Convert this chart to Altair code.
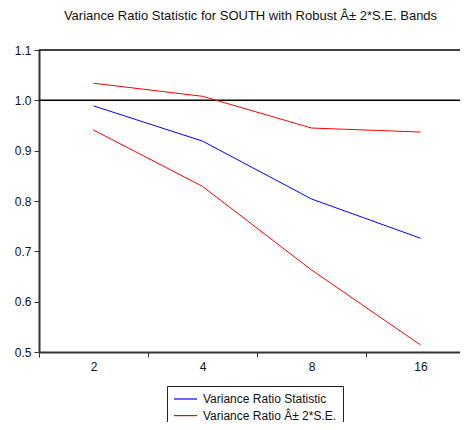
import altair as alt
import pandas as pd

periods = ["2", "4", "8", "16"]
vr_stat = [0.989, 0.919, 0.804, 0.726]
vr_upper = [1.034, 1.008, 0.945, 0.937]
vr_lower = [0.941, 0.829, 0.663, 0.514]
ref_level = [1.0]
frame_top = [1.1]
series_labels = ["Variance Ratio Statistic", "Variance Ratio Â± 2*S.E."]
series_colors = ["#0000ff", "#ff0000"]
y_ticks = [0.5, 0.6, 0.7, 0.8, 0.9, 1.0, 1.1]
title_text = "Variance Ratio Statistic for SOUTH with Robust Â± 2*S.E. Bands"

rows = []
for i, (p, s, u, l) in enumerate(zip(periods, vr_stat, vr_upper, vr_lower)):
    rows.append({"pos": i, "period": p, "value": s, "label": series_labels[0], "line": "stat"})
    rows.append({"pos": i, "period": p, "value": u, "label": series_labels[1], "line": "upper"})
    rows.append({"pos": i, "period": p, "value": l, "label": series_labels[1], "line": "lower"})
df = pd.DataFrame(rows)
ref_df = pd.DataFrame({"level": ref_level})
top_df = pd.DataFrame({"level": frame_top})

FONT = "Liberation Sans"
PLOT_W = 421
BAND_PX = 109  # width of one category band in pixels (right part cropped like the reference)
n = len(periods)
x_domain = [-0.5, -0.5 + PLOT_W / BAND_PX]
x_values = []
for i in range(n):
    x_values += [i - 0.5, i]
label_array = "[" + ",".join("'" + p + "'" for p in periods) + "]"

y_scale = alt.Scale(domain=[0.5, 1.1], nice=False, zero=False)

x_enc = alt.X(
    "pos:Q",
    scale=alt.Scale(domain=x_domain, nice=False, zero=False),
    axis=alt.Axis(
        title=None, values=x_values, grid=False, labelAngle=0, tickSize=5,
        labelExpr=f"datum.value % 1 === 0 ? {label_array}[datum.value] : ''",
        labelOverlap=False, labelFlush=False, labelBound=False,
        tickOpacity={"condition": {"test": "datum.value % 1 === 0", "value": 0}, "value": 1},
        labelFontSize=12, labelFont=FONT, labelColor="#111", labelPadding=4,
        domainColor="#333", domainWidth=2, tickColor="#333", tickWidth=1,
    ),
)
y_enc = alt.Y(
    "value:Q",
    scale=y_scale,
    axis=alt.Axis(
        title=None, values=y_ticks, format=".1f", tickSize=5, grid=False,
        labelFontSize=12, labelFont=FONT, labelColor="#111", labelPadding=3,
        domainColor="#333", domainWidth=2, tickColor="#333", tickWidth=1,
    ),
)

lines = alt.Chart(df).mark_line(strokeWidth=1).encode(
    x=x_enc,
    y=y_enc,
    color=alt.Color(
        "label:N",
        scale=alt.Scale(domain=series_labels, range=series_colors),
        legend=alt.Legend(
            title=None, orient="none", legendX=128, legendY=336,
            symbolType="M-1,0H2.83", symbolSize=144, symbolStrokeWidth=1.2,
            labelFont=FONT, labelFontSize=12, labelColor="#111",
            labelOffset=16, padding=6, rowPadding=3.6,
            strokeColor="#222", fillColor="white", cornerRadius=0,
        ),
    ),
    detail="line:N",
)

rule = alt.Chart(ref_df).mark_rule(color="black", strokeWidth=1.5).encode(
    y=alt.Y("level:Q", scale=y_scale)
)
top_rule = alt.Chart(top_df).mark_rule(color="black", strokeWidth=1.5).encode(
    y=alt.Y("level:Q", scale=y_scale)
)

chart = (
    alt.layer(top_rule, rule, lines)
    .properties(
        width=PLOT_W,
        height=302,
        title=alt.TitleParams(
            title_text, font=FONT, fontSize=13, fontWeight="normal",
            color="#111", anchor="middle", offset=21, dx=1,
        ),
        autosize=alt.AutoSizeParams(type="none"),
        padding={"left": 31, "top": 42, "right": 0, "bottom": 70},
    )
    .configure_view(stroke="transparent")
)

chart.save("out.html", embed_options={"renderer": "svg", "actions": False})
